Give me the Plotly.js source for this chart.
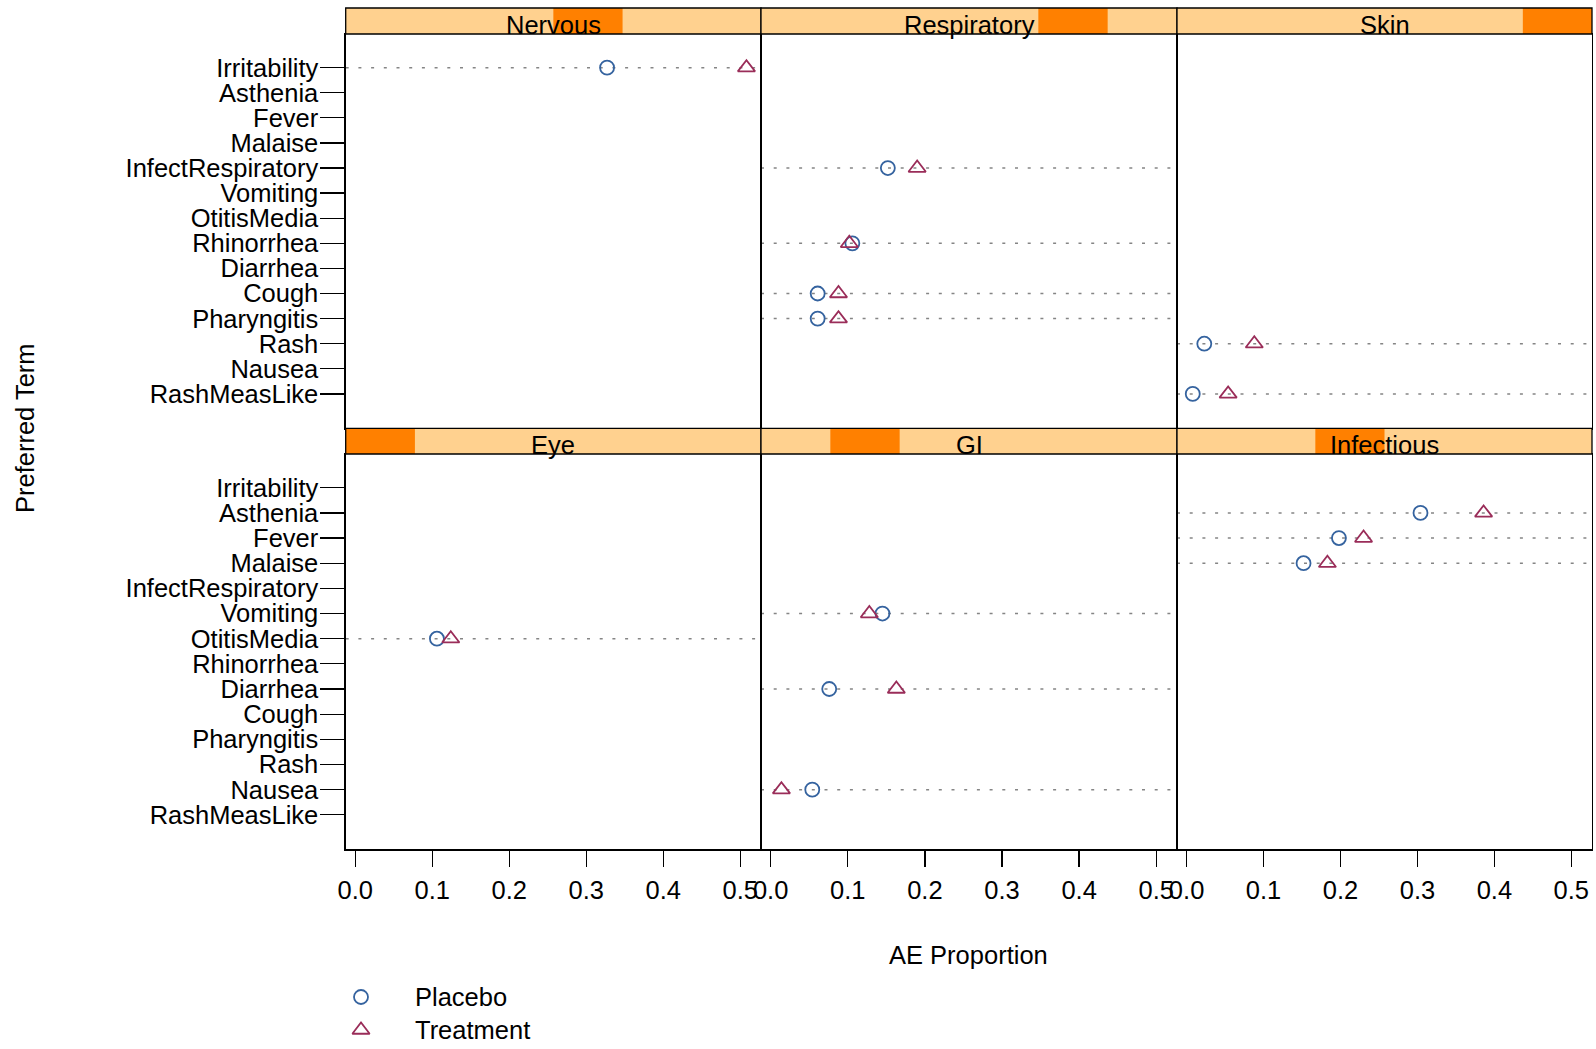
<!DOCTYPE html>
<html>
<head>
<meta charset="utf-8">
<script src="https://cdn.plot.ly/plotly-3.0.1.min.js"></script>
<style>html,body{margin:0;padding:0;background:#fff;overflow:hidden;}#chart{width:1596px;height:1049px;}</style>
</head>
<body>
<div id="chart"></div>
<script>
// ---- data ----
const terms = ['Irritability','Asthenia','Fever','Malaise','InfectRespiratory','Vomiting','OtitisMedia','Rhinorrhea','Diarrhea','Cough','Pharyngitis','Rash','Nausea','RashMeasLike'];
const bodySystems = ['Eye','GI','Infectious','Nervous','Respiratory','Skin'];
const seriesNames = ['Placebo','Treatment'];
const xTicks = [0.0, 0.1, 0.2, 0.3, 0.4, 0.5];
const xTickLabels = ['0.0','0.1','0.2','0.3','0.4','0.5'];

const nervousTerms = ['Irritability'];
const nervousPlacebo = [0.327];
const nervousTreatment = [0.508];

const respiratoryTerms = ['InfectRespiratory','Rhinorrhea','Cough','Pharyngitis'];
const respiratoryPlacebo = [0.152, 0.106, 0.061, 0.061];
const respiratoryTreatment = [0.190, 0.102, 0.088, 0.088];

const skinTerms = ['Rash','RashMeasLike'];
const skinPlacebo = [0.023, 0.008];
const skinTreatment = [0.088, 0.054];

const eyeTerms = ['OtitisMedia'];
const eyePlacebo = [0.106];
const eyeTreatment = [0.124];

const giTerms = ['Vomiting','Diarrhea','Nausea'];
const giPlacebo = [0.145, 0.076, 0.054];
const giTreatment = [0.128, 0.163, 0.014];

const infectiousTerms = ['Asthenia','Fever','Malaise'];
const infectiousPlacebo = [0.304, 0.198, 0.152];
const infectiousTreatment = [0.386, 0.230, 0.183];

// ---- layout constants ----
const W = 1596, H = 1049;
const FONT = 'Liberation Sans, Arial, Helvetica, sans-serif';
const FS = 25.5;
const colPx = [[345.7, 761], [761, 1177], [1177, 1592]];
const rowPx = [[34, 428.3], [454, 849.3]];
const stripPx = [[8, 34], [428.3, 454]];
const stripTextY = [25, 445];
const colors = ['#35639F', '#9A2D59'];
const symbols = ['circle-open', 'triangle-up-open'];
const sizes = [14, 15];
const py = p => 1 - p / H;
const px = p => p / W;

const panels = [
  {name: 'Nervous', terms: nervousTerms, vals: [nervousPlacebo, nervousTreatment], row: 0, col: 0},
  {name: 'Respiratory', terms: respiratoryTerms, vals: [respiratoryPlacebo, respiratoryTreatment], row: 0, col: 1},
  {name: 'Skin', terms: skinTerms, vals: [skinPlacebo, skinTreatment], row: 0, col: 2},
  {name: 'Eye', terms: eyeTerms, vals: [eyePlacebo, eyeTreatment], row: 1, col: 0},
  {name: 'GI', terms: giTerms, vals: [giPlacebo, giTreatment], row: 1, col: 1},
  {name: 'Infectious', terms: infectiousTerms, vals: [infectiousPlacebo, infectiousTreatment], row: 1, col: 2}
];

const traces = [];
const shapes = [];
const annotations = [];
const layout = {
  width: W, height: H, autosize: false,
  margin: {l: 0, r: 0, t: 0, b: 0, pad: 0, autoexpand: false},
  paper_bgcolor: '#fff', plot_bgcolor: '#fff',
  font: {family: FONT, size: FS, color: '#000'},
  showlegend: false
};

panels.forEach((p, i) => {
  const s = i === 0 ? '' : String(i + 1);
  const xd = [px(colPx[p.col][0]), px(colPx[p.col][1])];
  const yd = [py(rowPx[p.row][1]), py(rowPx[p.row][0])];
  layout['xaxis' + s] = {
    domain: xd, anchor: 'y' + s, range: [-0.01247, 0.5269], automargin: false,
    tickmode: 'array', tickvals: xTicks, ticktext: xTickLabels,
    showticklabels: p.row === 1, ticks: p.row === 1 ? 'outside' : '',
    ticklen: 16, tickwidth: 1.3, tickcolor: '#000', ticklabelstandoff: 2,
    tickfont: {family: FONT, size: FS, color: '#000'},
    showline: true, mirror: true, linecolor: '#000', linewidth: 1.3,
    showgrid: false, zeroline: false, fixedrange: true
  };
  layout['yaxis' + s] = {
    domain: yd, anchor: 'x' + s, range: [14.37, -1.34], automargin: false,
    tickmode: 'array', tickvals: terms.map((t, k) => k), ticktext: terms,
    showticklabels: p.col === 0, ticks: p.col === 0 ? 'outside' : '',
    ticklen: 24, tickwidth: 1.3, tickcolor: '#000', ticklabelstandoff: -3,
    tickfont: {family: FONT, size: FS, color: '#000'},
    showline: true, mirror: true, linecolor: '#000', linewidth: 1.3,
    showgrid: false, zeroline: false, fixedrange: true
  };
  p.terms.forEach(t => {
    shapes.push({type: 'line', layer: 'below', xref: 'x' + s + ' domain', yref: 'y' + s,
      x0: 0, x1: 1, y0: terms.indexOf(t), y1: terms.indexOf(t),
      line: {color: '#858585', width: 1.5, dash: '3px,9.7px'}});
  });
  const sy0 = py(stripPx[p.row][1]), sy1 = py(stripPx[p.row][0]);
  const lvl = bodySystems.indexOf(p.name);
  shapes.push({type: 'rect', xref: 'x' + s + ' domain', yref: 'paper', x0: 0, x1: 1, y0: sy0, y1: sy1,
    fillcolor: '#FFD18F', line: {width: 0}});
  shapes.push({type: 'rect', xref: 'x' + s + ' domain', yref: 'paper', x0: lvl / bodySystems.length, x1: (lvl + 1) / bodySystems.length,
    y0: sy0, y1: sy1, fillcolor: '#FF8000', line: {width: 0}});
  shapes.push({type: 'rect', xref: 'x' + s + ' domain', yref: 'paper', x0: 0, x1: 1, y0: sy0, y1: sy1,
    fillcolor: 'rgba(0,0,0,0)', line: {color: '#000', width: 1.3}});
  annotations.push({xref: 'x' + s + ' domain', yref: 'paper', x: 0.5, y: py(stripTextY[p.row]),
    xanchor: 'center', yanchor: 'middle', showarrow: false, text: p.name,
    font: {family: FONT, size: FS, color: '#000'}});
  seriesNames.forEach((nm, k) => {
    traces.push({
      type: 'scatter', mode: 'markers', name: nm, showlegend: false,
      x: p.vals[k], y: p.terms.map(t => terms.indexOf(t)),
      xaxis: 'x' + s, yaxis: 'y' + s,
      marker: {symbol: symbols[k], size: sizes[k], color: colors[k], line: {color: colors[k], width: 1.8}},
      hoverinfo: 'x+name'
    });
  });
});

// ---- key in its own hidden axes ----
layout.xaxis7 = {domain: [px(331), px(391)], anchor: 'y7', range: [-1, 1], visible: false, fixedrange: true};
layout.yaxis7 = {domain: [py(1046.5), py(980.5)], anchor: 'x7', range: [seriesNames.length - 0.5, -0.5],
  visible: false, fixedrange: true};
seriesNames.forEach((nm, k) => {
  traces.push({
    type: 'scatter', mode: 'markers', name: nm, showlegend: false, hoverinfo: 'skip',
    x: [0], y: [k], xaxis: 'x7', yaxis: 'y7',
    marker: {symbol: symbols[k], size: sizes[k], color: colors[k], line: {color: colors[k], width: 1.8}}
  });
  annotations.push({xref: 'paper', yref: 'y7', x: px(413), y: k, yshift: 0,
    xanchor: 'left', yanchor: 'middle', showarrow: false, text: nm,
    font: {family: FONT, size: FS, color: '#000'}});
});

annotations.push({xref: 'paper', yref: 'paper', x: px(969), y: py(955), xanchor: 'center', yanchor: 'middle',
  showarrow: false, text: 'AE Proportion', font: {family: FONT, size: FS, color: '#000'}});
annotations.push({xref: 'paper', yref: 'paper', x: px(25), y: py(428), xanchor: 'center', yanchor: 'middle',
  showarrow: false, textangle: -90, text: 'Preferred Term', font: {family: FONT, size: FS, color: '#000'}});

layout.shapes = shapes;
layout.annotations = annotations;

Plotly.newPlot('chart', traces, layout, {displayModeBar: false, staticPlot: true});
</script>
</body>
</html>
